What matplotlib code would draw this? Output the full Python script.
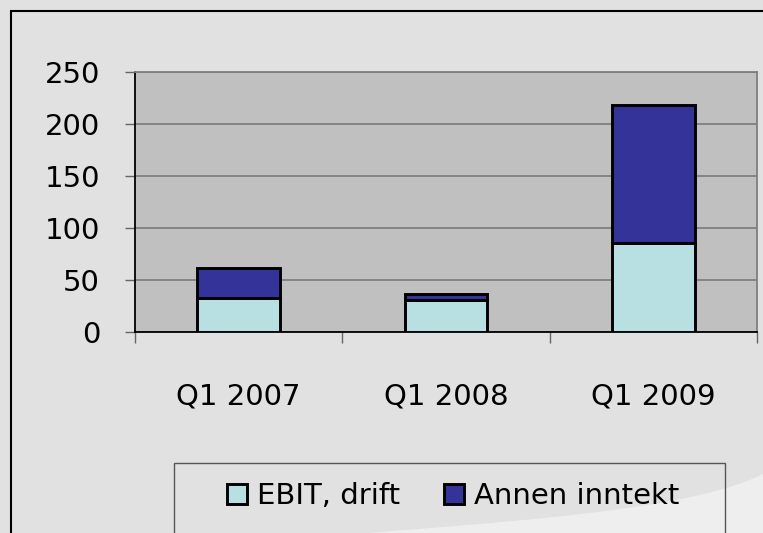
import matplotlib
matplotlib.use("Agg")
import matplotlib.pyplot as plt
from matplotlib.patches import Rectangle, PathPatch
from matplotlib.path import Path
import numpy as np

categories = ["Q1 2007", "Q1 2008", "Q1 2009"]
ebit_drift = [33, 31, 86]
annen_inntekt = [29, 6, 132]
series_names = ["EBIT, drift", "Annen inntekt"]
y_ticks = [0, 50, 100, 150, 200, 250]

W, H = 763, 533
PT = 0.72  # points per pixel at dpi 100
FS = 21
fig = plt.figure(figsize=(W / 100, H / 100), dpi=100)
fig.patch.set_facecolor("#E1E1E1")

def fx(px):
    return px / W

def fy(py):
    return 1 - py / H

# subtle white swoosh in the background (lower right)
verts = [(fx(280), fy(540)),
         (fx(500), fy(522)), (fx(700), fy(512)), (fx(770), fy(470)),
         (fx(770), fy(540)),
         (fx(280), fy(540))]
codes = [Path.MOVETO, Path.CURVE4, Path.CURVE4, Path.CURVE4, Path.LINETO,
         Path.CLOSEPOLY]
fig.patches.append(PathPatch(Path(verts, codes), transform=fig.transFigure,
                             facecolor="white", edgecolor="none", alpha=0.45, zorder=0))

# outer border (top and left visible)
fig.patches.append(Rectangle((fx(11), fy(545)), fx(770) - fx(11), fy(11) - fy(545),
                             transform=fig.transFigure, fill=False,
                             edgecolor="black", linewidth=1.5, zorder=1))

ax = fig.add_axes([fx(135), fy(332), fx(757) - fx(135), fy(72) - fy(332)])
ax.set_facecolor("#C0C0C0")

x = np.arange(len(categories))
bw = 0.4
b1 = ax.bar(x, ebit_drift, bw, color="#B8DFE2", edgecolor="black", linewidth=2.1, zorder=3)
b2 = ax.bar(x, annen_inntekt, bw, bottom=ebit_drift, color="#333399",
            edgecolor="black", linewidth=2.1, zorder=3)

ax.set_xlim(-0.5, len(categories) - 0.5)
ax.set_ylim(0, 250)
ax.set_yticks(y_ticks)
ax.set_yticklabels([str(v) for v in y_ticks])
ax.yaxis.grid(True, color="#7F7F7F", linewidth=1.3, zorder=1)
ax.set_axisbelow(True)

ax.set_xticks(x)
ax.set_xticklabels(categories)
ax.set_xticks(np.arange(-0.5, len(categories)), minor=True)
ax.tick_params(axis="x", which="major", length=0, pad=50 * PT, labelsize=FS)
ax.tick_params(axis="x", which="minor", length=11 * PT, width=1, color="#666666")
ax.tick_params(axis="y", length=10 * PT, width=1, color="#666666", pad=25 * PT, labelsize=FS)

for s in ["top", "right"]:
    ax.spines[s].set_color("#7F7F7F")
    ax.spines[s].set_linewidth(1.3)
for s in ["left", "bottom"]:
    ax.spines[s].set_color("black")
    ax.spines[s].set_linewidth(1.3)

# legend
fig.patches.append(Rectangle((fx(174), fy(545)), fx(725) - fx(174), fy(463) - fy(545),
                             transform=fig.transFigure, fill=False,
                             edgecolor="#555555", linewidth=1.0, zorder=2))
leg = fig.legend([b1, b2], series_names, loc="center",
                 bbox_to_anchor=(fx(453), fy(496)), ncol=2, frameon=False,
                 fontsize=FS, handlelength=0.69, handleheight=0.69,
                 handletextpad=0.34, columnspacing=1.5)

fig.savefig("out.png", dpi=100, facecolor=fig.get_facecolor())
